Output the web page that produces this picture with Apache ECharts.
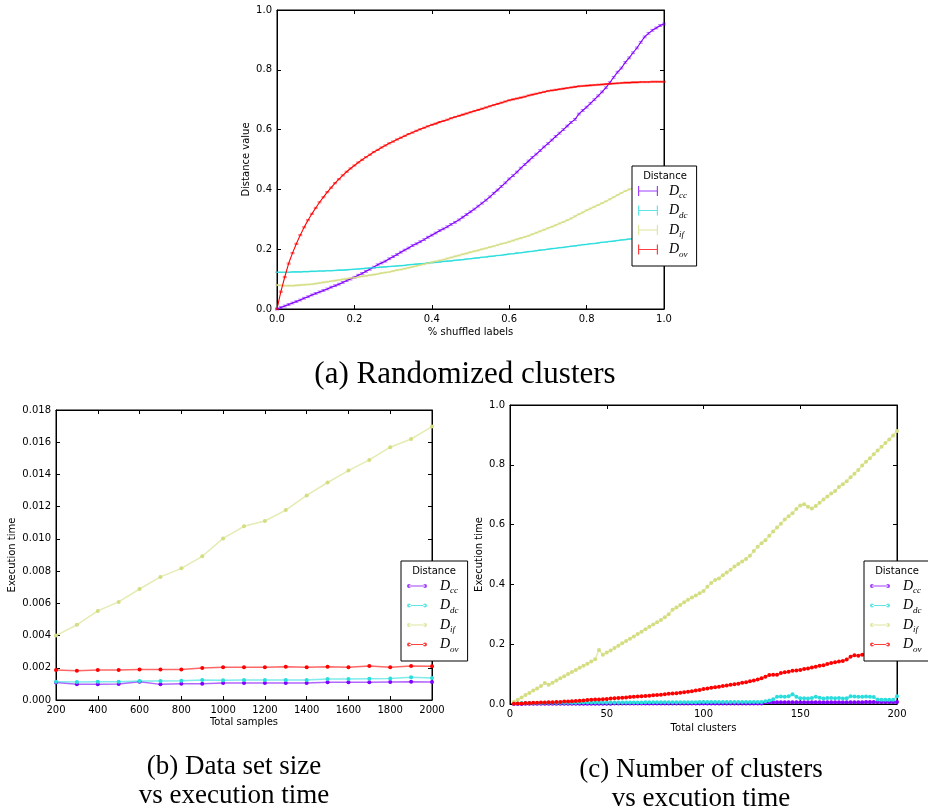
<!DOCTYPE html>
<html>
<head>
<meta charset="utf-8">
<script src="https://cdn.jsdelivr.net/npm/echarts@6/dist/echarts.min.js"></script>
<style>
  html, body { margin: 0; padding: 0; background: #fff; }
  #chart { width: 928px; height: 812px; }
</style>
</head>
<body>
<div id="chart"></div>
<script>
// ---------- (a) distance value vs fraction of shuffled labels ----------
const shuffled = [
  0.00,0.01,0.02,0.03,0.04,0.05,0.06,0.07,0.08,0.09,
  0.10,0.11,0.12,0.13,0.14,0.15,0.16,0.17,0.18,0.19,
  0.20,0.21,0.22,0.23,0.24,0.25,0.26,0.27,0.28,0.29,
  0.30,0.31,0.32,0.33,0.34,0.35,0.36,0.37,0.38,0.39,
  0.40,0.41,0.42,0.43,0.44,0.45,0.46,0.47,0.48,0.49,
  0.50,0.51,0.52,0.53,0.54,0.55,0.56,0.57,0.58,0.59,
  0.60,0.61,0.62,0.63,0.64,0.65,0.66,0.67,0.68,0.69,
  0.70,0.71,0.72,0.73,0.74,0.75,0.76,0.77,0.78,0.79,
  0.80,0.81,0.82,0.83,0.84,0.85,0.86,0.87,0.88,0.89,
  0.90,0.91,0.92,0.93,0.94,0.95,0.96,0.97,0.98,0.99,
  1.00
];
const ccShuffled = [
  0.000,0.005,0.010,0.015,0.020,0.025,0.030,0.036,0.041,0.047,
  0.052,0.057,0.062,0.067,0.073,0.078,0.083,0.089,0.095,0.100,
  0.106,0.113,0.119,0.126,0.133,0.140,0.148,0.154,0.160,0.168,
  0.175,0.182,0.190,0.197,0.204,0.212,0.218,0.225,0.232,0.240,
  0.247,0.254,0.262,0.268,0.275,0.283,0.290,0.298,0.307,0.316,
  0.325,0.334,0.344,0.354,0.364,0.375,0.387,0.398,0.410,0.422,
  0.435,0.446,0.458,0.471,0.483,0.495,0.507,0.518,0.530,0.542,
  0.553,0.565,0.577,0.588,0.600,0.612,0.624,0.634,0.652,0.664,
  0.675,0.688,0.700,0.713,0.726,0.740,0.757,0.775,0.792,0.806,
  0.825,0.840,0.857,0.873,0.892,0.910,0.922,0.932,0.940,0.948,
  0.953
];
const dcShuffled = [
  0.123,0.123,0.123,0.123,0.124,0.124,0.124,0.125,0.125,0.126,
  0.126,0.127,0.127,0.128,0.128,0.129,0.130,0.130,0.131,0.132,
  0.133,0.134,0.135,0.136,0.137,0.138,0.139,0.140,0.141,0.142,
  0.143,0.144,0.145,0.146,0.148,0.149,0.150,0.151,0.152,0.154,
  0.155,0.156,0.157,0.159,0.160,0.161,0.163,0.164,0.165,0.167,
  0.168,0.170,0.171,0.173,0.174,0.176,0.177,0.179,0.180,0.182,
  0.184,0.185,0.187,0.188,0.190,0.192,0.193,0.195,0.197,0.198,
  0.200,0.202,0.203,0.205,0.206,0.208,0.210,0.211,0.213,0.215,
  0.216,0.218,0.219,0.221,0.223,0.224,0.226,0.227,0.229,0.231,
  0.232,0.234,0.235,0.237,0.238,0.240,0.241,0.243,0.244,0.246,
  0.247
];
const ifShuffled = [
  0.080,0.079,0.078,0.078,0.078,0.079,0.080,0.081,0.082,0.083,
  0.085,0.087,0.089,0.091,0.093,0.095,0.097,0.099,0.101,0.103,
  0.105,0.107,0.109,0.111,0.113,0.115,0.117,0.120,0.122,0.124,
  0.127,0.130,0.132,0.135,0.138,0.141,0.144,0.147,0.150,0.153,
  0.156,0.159,0.162,0.165,0.169,0.172,0.176,0.179,0.183,0.186,
  0.190,0.193,0.196,0.200,0.203,0.207,0.210,0.214,0.218,0.221,
  0.225,0.229,0.233,0.237,0.241,0.245,0.250,0.255,0.260,0.265,
  0.270,0.275,0.280,0.286,0.291,0.297,0.303,0.310,0.317,0.323,
  0.330,0.336,0.342,0.348,0.354,0.360,0.367,0.374,0.381,0.388,
  0.395,0.400,0.405,0.409,0.412,0.415,0.419,0.423,0.427,0.431,
  0.435
];
const ovShuffled = [
  0.000,0.058,0.107,0.152,0.187,0.218,0.247,0.273,0.297,0.318,
  0.338,0.357,0.374,0.391,0.406,0.421,0.434,0.447,0.459,0.470,
  0.480,0.490,0.499,0.508,0.516,0.525,0.532,0.540,0.547,0.554,
  0.560,0.567,0.573,0.579,0.585,0.590,0.596,0.601,0.606,0.611,
  0.616,0.620,0.625,0.629,0.633,0.638,0.642,0.646,0.650,0.654,
  0.658,0.662,0.666,0.670,0.674,0.678,0.682,0.686,0.690,0.694,
  0.698,0.701,0.704,0.707,0.710,0.714,0.717,0.720,0.723,0.726,
  0.729,0.731,0.733,0.735,0.737,0.739,0.741,0.743,0.745,0.746,
  0.747,0.748,0.749,0.750,0.751,0.752,0.753,0.754,0.755,0.756,
  0.757,0.757,0.758,0.758,0.759,0.759,0.759,0.760,0.760,0.760,
  0.760
];
// half-height of the error bar drawn at each point, per distance
const spreadShuffled = [0.003, 0.001, 0.002, 0.002];

// ---------- (b) execution time vs data set size ----------
const samples = [200,300,400,500,600,700,800,900,1000,1100,1200,1300,1400,1500,1600,1700,1800,1900,2000];
const ccSamples = [0.00108,0.00097,0.00097,0.00099,0.00114,0.00097,0.00101,0.00101,0.00106,0.00106,0.00106,0.00106,0.00106,0.00110,0.00110,0.00110,0.00112,0.00114,0.00112];
const dcSamples = [0.00114,0.00112,0.00114,0.00114,0.00118,0.00118,0.00120,0.00124,0.00122,0.00124,0.00124,0.00124,0.00124,0.00130,0.00130,0.00132,0.00134,0.00141,0.00137];
const ifSamples = [0.00400,0.00467,0.00553,0.00609,0.00689,0.00764,0.00817,0.00892,0.01003,0.01078,0.01111,0.01179,0.01270,0.01350,0.01424,0.01490,0.01569,0.01620,0.01697];
const ovSamples = [0.00186,0.00182,0.00186,0.00186,0.00190,0.00190,0.00190,0.00199,0.00203,0.00203,0.00203,0.00207,0.00203,0.00207,0.00203,0.00211,0.00203,0.00211,0.00209];

// ---------- (c) execution time vs number of clusters ----------
const clusters = [
  2,4,6,8,10,12,14,16,18,20,
  22,24,26,28,30,32,34,36,38,40,
  42,44,46,48,50,52,54,56,58,60,
  62,64,66,68,70,72,74,76,78,80,
  82,84,86,88,90,92,94,96,98,100,
  102,104,106,108,110,112,114,116,118,120,
  122,124,126,128,130,132,134,136,138,140,
  142,144,146,148,150,152,154,156,158,160,
  162,164,166,168,170,172,174,176,178,180,
  182,184,186,188,190,192,194,196,198,200
];
const ccClusters = [
  0.000,0.000,0.000,0.001,0.001,0.001,0.001,0.001,0.001,0.001,
  0.001,0.001,0.001,0.001,0.001,0.001,0.001,0.001,0.001,0.001,
  0.001,0.001,0.001,0.001,0.001,0.001,0.002,0.002,0.002,0.002,
  0.002,0.002,0.002,0.002,0.002,0.002,0.002,0.002,0.002,0.002,
  0.002,0.002,0.002,0.002,0.002,0.002,0.002,0.002,0.002,0.002,
  0.002,0.002,0.002,0.002,0.002,0.002,0.002,0.002,0.002,0.002,
  0.002,0.002,0.002,0.002,0.002,0.006,0.006,0.006,0.006,0.006,
  0.006,0.006,0.006,0.006,0.006,0.006,0.006,0.006,0.006,0.006,
  0.006,0.006,0.006,0.006,0.006,0.006,0.006,0.006,0.006,0.006,
  0.006,0.007,0.007,0.007,0.007,0.007,0.007,0.007,0.007,0.007
];
const dcClusters = [
  0.002,0.002,0.003,0.003,0.003,0.003,0.003,0.003,0.004,0.004,
  0.004,0.004,0.004,0.004,0.004,0.004,0.004,0.005,0.005,0.005,
  0.005,0.005,0.005,0.005,0.005,0.005,0.005,0.005,0.005,0.005,
  0.005,0.005,0.005,0.005,0.006,0.006,0.006,0.006,0.006,0.006,
  0.006,0.006,0.006,0.006,0.006,0.006,0.006,0.006,0.007,0.007,
  0.007,0.007,0.007,0.007,0.007,0.007,0.007,0.007,0.007,0.007,
  0.007,0.007,0.007,0.007,0.007,0.009,0.012,0.016,0.024,0.025,
  0.024,0.026,0.033,0.024,0.019,0.019,0.018,0.020,0.024,0.021,
  0.018,0.020,0.020,0.019,0.020,0.018,0.019,0.026,0.025,0.024,
  0.024,0.025,0.024,0.023,0.015,0.014,0.014,0.014,0.014,0.026
];
const ifClusters = [
  0.007,0.014,0.022,0.030,0.037,0.045,0.052,0.060,0.070,0.064,
  0.071,0.079,0.086,0.093,0.100,0.107,0.114,0.121,0.128,0.135,
  0.142,0.150,0.181,0.165,0.172,0.179,0.187,0.195,0.203,0.211,
  0.218,0.226,0.234,0.242,0.250,0.258,0.266,0.273,0.281,0.290,
  0.300,0.315,0.323,0.331,0.340,0.349,0.356,0.363,0.370,0.378,
  0.392,0.405,0.415,0.420,0.431,0.440,0.449,0.460,0.468,0.477,
  0.485,0.496,0.512,0.526,0.538,0.548,0.563,0.577,0.590,0.603,
  0.617,0.628,0.638,0.652,0.664,0.668,0.660,0.654,0.662,0.673,
  0.684,0.694,0.704,0.712,0.726,0.735,0.745,0.758,0.770,0.783,
  0.798,0.810,0.822,0.835,0.848,0.860,0.873,0.885,0.898,0.913
];
const ovClusters = [
  0.001,0.002,0.002,0.003,0.003,0.004,0.004,0.005,0.005,0.006,
  0.006,0.007,0.007,0.008,0.008,0.009,0.010,0.011,0.012,0.013,
  0.014,0.015,0.015,0.016,0.017,0.018,0.019,0.020,0.021,0.022,
  0.023,0.024,0.025,0.026,0.027,0.028,0.029,0.030,0.031,0.033,
  0.034,0.035,0.036,0.038,0.039,0.041,0.043,0.045,0.047,0.050,
  0.052,0.054,0.056,0.058,0.060,0.062,0.064,0.066,0.068,0.071,
  0.073,0.076,0.079,0.082,0.086,0.091,0.097,0.098,0.098,0.104,
  0.106,0.108,0.111,0.112,0.114,0.117,0.119,0.122,0.125,0.128,
  0.130,0.134,0.137,0.140,0.142,0.144,0.149,0.158,0.163,0.161,
  0.165,0.168,0.171,0.174,0.177,0.180,0.183,0.186,0.189,0.192
];

const distances = ['D_cc', 'D_dc', 'D_if', 'D_ov'];
const palette = ['#8000ff', '#2adddd', '#d4dd80', '#ff0000'];

// ---------- helpers ----------
const sans = 'DejaVu Sans';
const serif = 'Liberation Serif';

function pairs(xs, ys) { return xs.map((x, i) => [x, ys[i]]); }

function axis(grid, position, min, max, interval, opts) {
  opts = opts || {};
  return {
    type: 'value', gridIndex: grid, position: position,
    min: min, max: max, interval: interval,
    name: opts.name || '', nameLocation: 'middle', nameGap: opts.nameGap || 20,
    nameTextStyle: { fontFamily: sans, fontSize: 10, color: '#000' },
    axisLine: { show: true, onZero: false, lineStyle: { color: '#000', width: 1 } },
    axisTick: { show: true, inside: true, length: 4, lineStyle: { color: '#000', width: 1 } },
    splitLine: { show: false },
    axisLabel: {
      show: !!opts.fmt, margin: 5, color: '#000', fontFamily: sans, fontSize: 10,
      formatter: opts.fmt, showMinLabel: true, showMaxLabel: true
    }
  };
}

const fix = (d) => (v) => v.toFixed(d);
const int = (v) => String(Math.round(v));

// error bar: vertical segment with short caps at both ends
function errorBar(color) {
  return function (params, api) {
    const x = api.value(0), y = api.value(1), e = api.value(2);
    const hi = api.coord([x, y + e]);
    const lo = api.coord([x, y - e]);
    const w = 2;
    const st = { stroke: color, lineWidth: 1, opacity: 0.55 };
    return {
      type: 'group',
      children: [
        { type: 'line', shape: { x1: hi[0], y1: hi[1], x2: lo[0], y2: lo[1] }, style: st },
        { type: 'line', shape: { x1: hi[0] - w, y1: hi[1], x2: hi[0] + w, y2: hi[1] }, style: st },
        { type: 'line', shape: { x1: lo[0] - w, y1: lo[1], x2: lo[0] + w, y2: lo[1] }, style: st }
      ]
    };
  };
}

const series = [];
const shuffledSets = [ccShuffled, dcShuffled, ifShuffled, ovShuffled];
const sampleSets = [ccSamples, dcSamples, ifSamples, ovSamples];
const clusterSets = [ccClusters, dcClusters, ifClusters, ovClusters];

distances.forEach((name, i) => {
  series.push({
    name: name, type: 'line', xAxisIndex: 0, yAxisIndex: 0,
    data: pairs(shuffled, shuffledSets[i]), showSymbol: false,
    lineStyle: { color: palette[i], width: 1.1 }, itemStyle: { color: palette[i] },
    silent: true
  });
  series.push({
    name: name, type: 'custom', xAxisIndex: 0, yAxisIndex: 0,
    data: shuffled.map((x, k) => [x, shuffledSets[i][k], spreadShuffled[i]]),
    encode: { x: 0, y: 1 }, renderItem: errorBar(palette[i]),
    itemStyle: { color: palette[i] }, silent: true
  });
});
distances.forEach((name, i) => {
  series.push({
    name: name, type: 'line', xAxisIndex: 2, yAxisIndex: 2,
    data: pairs(samples, sampleSets[i]), symbol: 'circle', symbolSize: 4, showAllSymbol: true,
    lineStyle: { color: palette[i], width: 1.5, opacity: 0.6 }, itemStyle: { color: palette[i] },
    silent: true
  });
});
distances.forEach((name, i) => {
  series.push({
    name: name, type: 'line', xAxisIndex: 4, yAxisIndex: 4,
    data: pairs(clusters, clusterSets[i]), symbol: 'circle', symbolSize: 4, showAllSymbol: true,
    lineStyle: { color: palette[i], width: 1.5, opacity: 0.6 }, itemStyle: { color: palette[i] },
    silent: true
  });
});

// legend icons
const barIcon = 'path://M0,0h1.2v10h-1.2z M1,4.4h18v1.2h-18z M18.8,0h1.2v10h-1.2z';
const dotIcon = 'path://M0,2a2,2 0 1,0 4,0a2,2 0 1,0 -4,0z M16,2a2,2 0 1,0 4,0a2,2 0 1,0 -4,0z M2,1.5h16v1h-16z';

function legend(left, top, icon, iw, ih, textGap) {
  return {
    orient: 'vertical', left: left, top: top,
    padding: [18, 9, 7, 6], itemGap: 3,
    itemWidth: iw, itemHeight: ih,
    backgroundColor: '#fff', borderColor: '#000', borderWidth: 1, borderRadius: 0,
    selectedMode: false,
    data: distances.map((n) => ({ name: n, icon: icon })),
    itemStyle: { opacity: 0.75 },
    formatter: (n) => '{m|D}{s|' + n.slice(2) + '}',
    textStyle: {
      rich: {
        m: { fontFamily: serif, fontStyle: 'italic', fontSize: 14, color: '#000', lineHeight: 19, verticalAlign: 'middle', padding: [0, 0, 0, textGap] },
        s: { fontFamily: serif, fontStyle: 'italic', fontSize: 9, color: '#000', lineHeight: 19, verticalAlign: 'bottom' }
      }
    }
  };
}

function label(x, y, text, size, font) {
  return {
    type: 'text', x: x, y: y, z: 100,
    style: { text: text, font: size + 'px "' + font + '"', fill: '#000', align: 'center', verticalAlign: 'middle' }
  };
}

const option = {
  animation: false,
  backgroundColor: '#fff',
  grid: [
    { left: 277, top: 10, width: 387, height: 299, show: true, borderColor: '#000', borderWidth: 1, backgroundColor: 'transparent' },
    { left: 56, top: 410, width: 376, height: 290, show: true, borderColor: '#000', borderWidth: 1, backgroundColor: 'transparent' },
    { left: 510, top: 405, width: 387, height: 299, show: true, borderColor: '#000', borderWidth: 1, backgroundColor: 'transparent' }
  ],
  xAxis: [
    axis(0, 'bottom', 0, 1, 0.2, { fmt: fix(1), name: '% shuffled labels', nameGap: 18 }),
    axis(0, 'top', 0, 1, 0.2),
    axis(1, 'bottom', 200, 2000, 200, { fmt: int, name: 'Total samples', nameGap: 17 }),
    axis(1, 'top', 200, 2000, 200),
    axis(2, 'bottom', 0, 200, 50, { fmt: int, name: 'Total clusters', nameGap: 19 }),
    axis(2, 'top', 0, 200, 50)
  ],
  yAxis: [
    axis(0, 'left', 0, 1, 0.2, { fmt: fix(1), name: 'Distance value', nameGap: 26 }),
    axis(0, 'right', 0, 1, 0.2),
    axis(1, 'left', 0, 0.018, 0.002, { fmt: fix(3), name: 'Execution time', nameGap: 39 }),
    axis(1, 'right', 0, 0.018, 0.002),
    axis(2, 'left', 0, 1, 0.2, { fmt: fix(1), name: 'Execution time', nameGap: 26 }),
    axis(2, 'right', 0, 1, 0.2)
  ],
  legend: [
    legend(632, 166, barIcon, 20, 10, 6),
    legend(401, 561, dotIcon, 20, 4, 8),
    legend(864, 561, dotIcon, 20, 4, 8)
  ],
  graphic: [
    label(665, 176, 'Distance', 10, sans),
    label(434, 571, 'Distance', 10, sans),
    label(897, 571, 'Distance', 10, sans),
    label(465, 375, '(a) Randomized clusters', 31, serif),
    label(234, 767, '(b) Data set size', 27, serif),
    label(234, 796, 'vs execution time', 27, serif),
    label(701, 770, '(c) Number of clusters', 27, serif),
    label(701, 799, 'vs excution time', 27, serif)
  ],
  series: series
};

const chart = echarts.init(document.getElementById('chart'), null, { renderer: 'canvas' });
chart.setOption(option);
</script>
</body>
</html>
